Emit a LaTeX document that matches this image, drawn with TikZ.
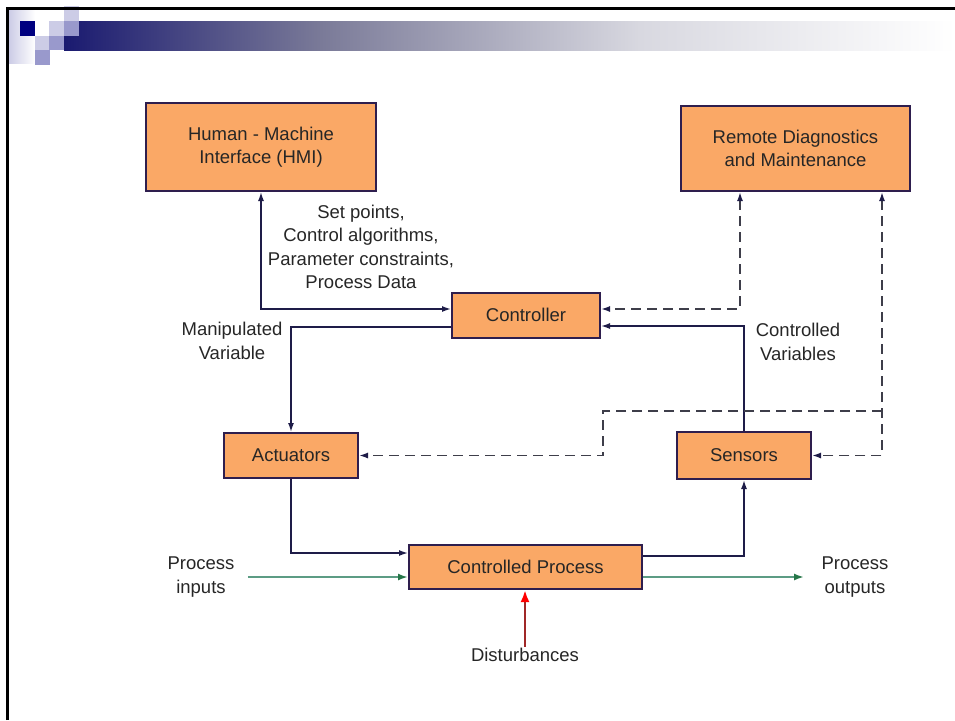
\documentclass[tikz,border=0pt]{standalone}
\usepackage{fontspec}
\setmainfont{Liberation Sans}
\usetikzlibrary{positioning,arrows.meta,calc}
\definecolor{boxfill}{RGB}{250,168,102}
\definecolor{boxline}{RGB}{46,30,78}
\definecolor{linkcol}{RGB}{30,28,72}
\definecolor{dashcol}{RGB}{62,62,74}
\definecolor{ingreen}{RGB}{92,156,132}
\definecolor{tipgreen}{RGB}{38,118,72}
\definecolor{distred}{RGB}{160,40,40}
\definecolor{navy}{RGB}{0,0,128}
\definecolor{sqlight}{RGB}{204,204,230}
\definecolor{sqmid}{RGB}{153,153,204}
\definecolor{barA}{RGB}{26,26,112}
\definecolor{barB}{RGB}{122,122,152}
\definecolor{barC}{RGB}{216,216,224}
\pgfdeclarehorizontalshading{titlebar}{100bp}{color(0bp)=(barA); color(25bp)=(barA);
  color(39.4bp)=(barB); color(57.3bp)=(barC); color(75bp)=(white); color(100bp)=(white)}
\tikzset{
block/.style={
  draw=boxline,
  fill=boxfill,
  line width=2pt,
  align=center,
  text=black!85
},
lbl/.style={
  align=center,
  text=black!85
},
solidlink/.style={
  draw=linkcol,
  line width=1.5pt,
  >={Latex[length=9pt,width=6pt]}
},
dashlink/.style={
  draw=dashcol,
  line width=1.6pt,
  dash pattern=on 10pt off 6pt,
  >={Latex[length=9pt,width=6pt,color=linkcol]}
}
}

\begin{document}
\begin{tikzpicture}[x=1pt,y=-1pt,font=\fontsize{18.5}{23.5}\selectfont]
  \useasboundingbox (0,0) rectangle (955,720);
  % slide decoration
  \shade[left color=sqlight, right color=white] (9,9) rectangle (35,63);
  \fill[shading=titlebar] (64,21) rectangle (955,50);
  \fill[sqlight] (64,6) rectangle (79,21);
  \fill[navy] (20,21) rectangle (35,36);
  \fill[sqlight] (49,21) rectangle (64,36);
  \fill[sqmid] (64,21) rectangle (79,36);
  \fill[sqlight] (35,36) rectangle (49,50);
  \fill[sqmid] (49,36) rectangle (64,50);
  \fill[sqmid] (35,50) rectangle (50,65);
  \draw[line width=3pt] (7,720) -- (7,8) -- (955,8);

  \node[block,minimum width=230pt,minimum height=88pt] (hmi) at (261,147) {Human - Machine\\Interface (HMI)};
  \node[block,minimum width=229pt,minimum height=85pt] (rdm) at (795.5,148.5) {Remote Diagnostics\\and Maintenance};
  \node[block,minimum width=148pt,minimum height=45pt] (ctrl) at (526,315) {Controller};
  \node[block,minimum width=134pt,minimum height=45pt] (act) at (291,455.5) {Actuators};
  \node[block,minimum width=134pt,minimum height=47pt] (sens) at (744,455.5) {Sensors};
  \node[block,minimum width=233pt,minimum height=44pt] (proc) at (525.5,567) {Controlled Process};

  \node[lbl] (setpts) at (361,247) {Set points,\\Control algorithms,\\Parameter constraints,\\Process Data};
  \node[lbl] (manip) at (232,341) {Manipulated\\Variable};
  \node[lbl] (ctrlvar) at (798,342) {Controlled\\Variables};
  \node[lbl] (pin) at (201,577) {Process\\inputs};
  \node[lbl] (pout) at (855,577) {Process\\outputs};
  \node[lbl] (dist) at (525,655) {Disturbances};

  \coordinate (split) at (882,411);
  \coordinate (bend) at (603,411);

  \draw[solidlink,<->] (hmi.south) |- ([yshift=6pt]ctrl.west);
  \draw[solidlink,->] ([yshift=-12pt]ctrl.west) -| (act.north);
  \draw[solidlink,->] (sens.north) |- ([yshift=-11pt]ctrl.east);
  \draw[solidlink,->] (act.south) |- ([yshift=14pt]proc.west);
  \draw[solidlink,->] ([yshift=11pt]proc.east) -| (sens.south);
  \draw[dashlink,<->] ([xshift=-55.5pt]rdm.south) |- ([yshift=6pt]ctrl.east);
  \draw[dashlink,<->] (rdm.south -| split) |- (sens.east);
  \draw[dashlink,->] (split) -- (bend) |- (act.east);

  \draw[ingreen,line width=2pt,-{Latex[length=10pt,width=7pt,color=tipgreen]}]
    ([xshift=10pt]pin.east) -- (pin.east -| proc.west);
  \draw[ingreen,line width=2pt,-{Latex[length=10pt,width=7pt,color=tipgreen]}]
    (proc.east |- pout.west) -- ([xshift=-14pt]pout.west);
  \draw[distred,line width=2.5pt,-{Latex[length=12pt,width=9pt,color=red]}]
    ([yshift=-2pt]dist.north) -- (dist.north |- proc.south);
\end{tikzpicture}
\end{document}
